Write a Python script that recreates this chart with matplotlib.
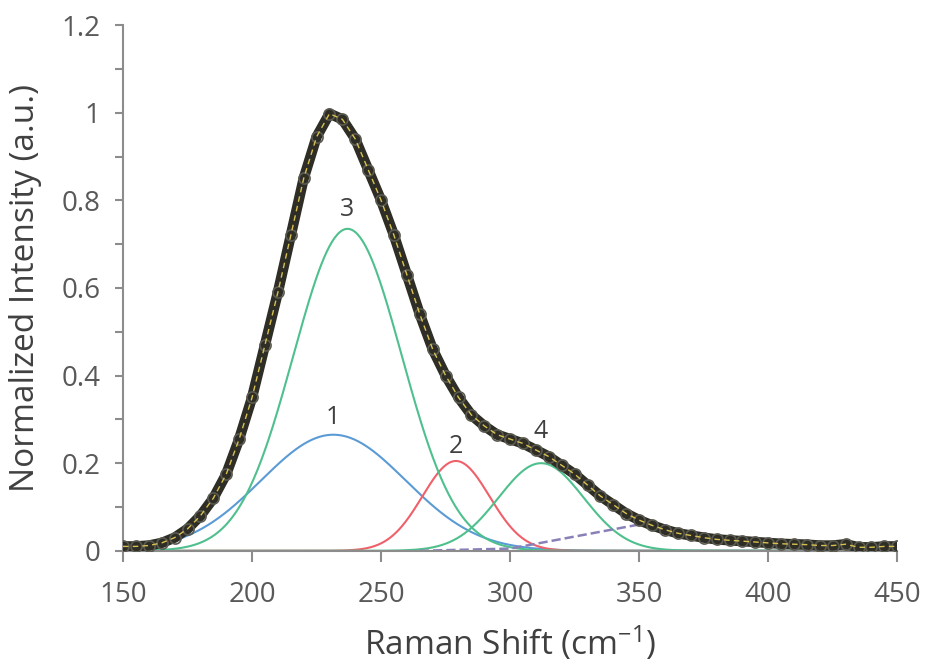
import matplotlib
matplotlib.use("Agg")
import matplotlib.pyplot as plt
import numpy as np
from matplotlib.ticker import MultipleLocator

plt.rcParams['font.family'] = ['Open Sans', 'DejaVu Sans']
plt.rcParams['mathtext.default'] = 'regular'

# measured spectrum, read every 5 cm-1
shift = np.arange(150, 455, 5)
intensity = [0.01, 0.01, 0.012, 0.018, 0.03, 0.05, 0.08, 0.12, 0.175, 0.255,
             0.35, 0.47, 0.59, 0.72, 0.85, 0.945, 0.998, 0.985, 0.94, 0.87,
             0.80, 0.72, 0.63, 0.54, 0.46, 0.40, 0.35, 0.31, 0.285, 0.265,
             0.255, 0.245, 0.23, 0.215, 0.195, 0.175, 0.15, 0.125, 0.105, 0.085,
             0.07, 0.058, 0.048, 0.04, 0.035, 0.03, 0.026, 0.024, 0.022, 0.02,
             0.018, 0.016, 0.015, 0.014, 0.012, 0.012, 0.015, 0.008, 0.008, 0.01,
             0.01]

# fitted gaussian components: label, centre, height, width
peak_labels = ["1", "2", "3", "4"]
peak_centre = [231.5, 279, 237, 312]
peak_height = [0.265, 0.205, 0.735, 0.20]
peak_sigma = [28, 13, 21, 16.5]
peak_colors = ["#5b9bd5", "#f0606a", "#4fc08d", "#4fc08d"]
label_y = [0.305, 0.237, 0.78, 0.272]

# dashed baseline
base_x = [265, 300, 350]
base_y = [0.0, 0.005, 0.06]

fig = plt.figure(figsize=(9.25, 6.62), dpi=100)
ax = fig.add_axes([0.133, 0.168, 0.837, 0.794])

xx = np.linspace(150, 450, 601)
for lab, c, h, s, col, ly in zip(peak_labels, peak_centre, peak_height,
                                 peak_sigma, peak_colors, label_y):
    ax.plot(xx, h * np.exp(-(xx - c) ** 2 / (2 * s ** 2)), color=col, lw=1.5)
    ax.text(c, ly, lab, ha="center", va="center", fontsize=18, color="#404040")

ax.plot(base_x, base_y, "--", color="#8a80b8", lw=1.8)

ax.plot(shift, intensity, color="#2e2e26", lw=7.5, solid_capstyle="round", zorder=3)
ax.plot(shift, intensity, "o", ms=8, mfc="none", mec="#5a5a50", mew=1.2, zorder=4)
ax.plot(shift, intensity, "--", color="#d8c050", lw=1, dashes=(4, 3), zorder=5)

ax.set_xlim(150, 450)
ax.set_ylim(0, 1.2)
ax.set_xticks([150, 200, 250, 300, 350, 400, 450])
ax.set_yticks([0, 0.2, 0.4, 0.6, 0.8, 1.0, 1.2])
ax.set_yticklabels(["0", "0.2", "0.4", "0.6", "0.8", "1", "1.2"])
ax.yaxis.set_minor_locator(MultipleLocator(0.1))

for side in ["top", "right"]:
    ax.spines[side].set_visible(False)
for side in ["left", "bottom"]:
    ax.spines[side].set_color("#8c8c8c")
    ax.spines[side].set_linewidth(1.5)

ax.tick_params(axis="x", which="major", length=8, width=1.5, color="#8c8c8c",
               labelsize=20, labelcolor="#595959", pad=14)
ax.tick_params(axis="y", which="major", length=6, width=1.5, color="#8c8c8c",
               labelsize=20, labelcolor="#595959", pad=10)
ax.tick_params(axis="y", which="minor", length=6, width=1.5, color="#8c8c8c")

ax.set_xlabel("Raman Shift (cm$^{-1}$)", fontsize=24, color="#404040")
ax.set_ylabel("Normalized Intensity (a.u.)", fontsize=24, color="#404040")
ax.xaxis.set_label_coords(0.5, -0.14)
ax.yaxis.set_label_coords(-0.105, 0.5)

fig.savefig("out.png", dpi=100)
